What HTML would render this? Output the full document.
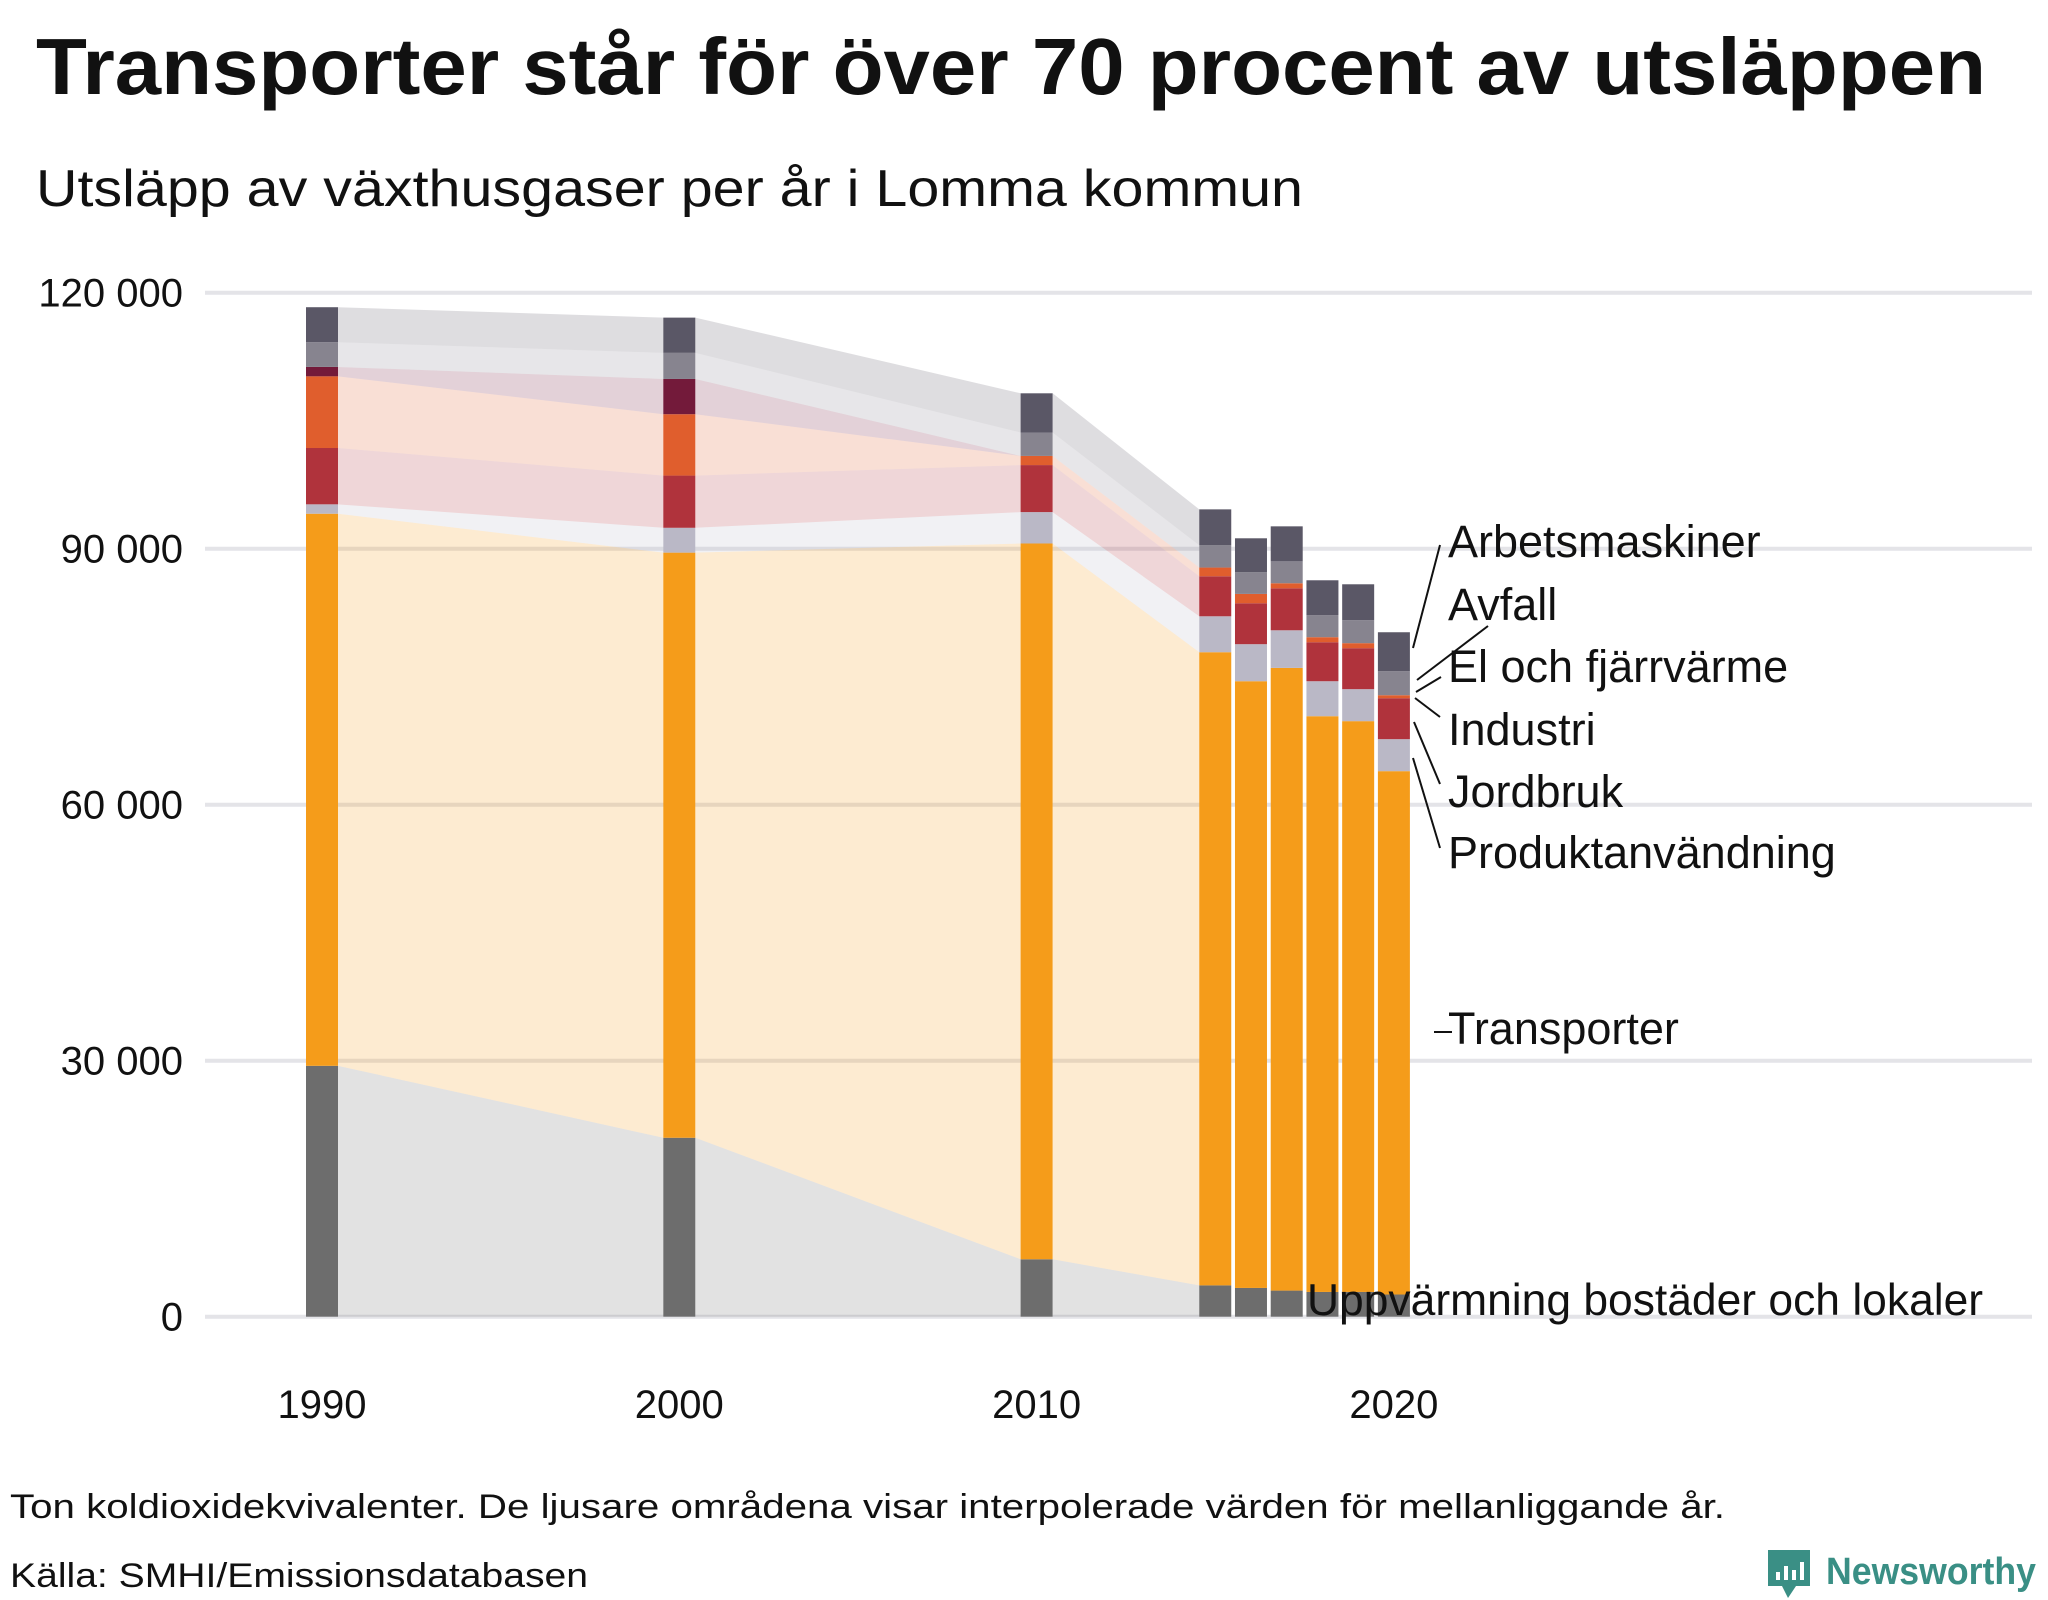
<!DOCTYPE html>
<html><head><meta charset="utf-8"><style>
body{margin:0;background:#fff;}
svg{display:block;}
</style></head><body>
<svg id="chart" width="2048" height="1600" viewBox="0 0 2048 1600" xmlns="http://www.w3.org/2000/svg">
<text x="36" y="94" font-family="'Liberation Sans',sans-serif" font-weight="bold" font-size="80" fill="#111" textLength="1950" lengthAdjust="spacingAndGlyphs">Transporter står för över 70 procent av utsläppen</text>
<text x="36" y="206" font-family="'Liberation Sans',sans-serif" font-size="52" fill="#111" textLength="1267" lengthAdjust="spacingAndGlyphs">Utsläpp av växthusgaser per år i Lomma kommun</text>
<g id="grid"></g>
<g id="areas"></g>
<g id="bars"></g>
<g id="labels"></g>
<text x="10" y="1518" font-family="'Liberation Sans',sans-serif" font-size="34" fill="#111" textLength="1715" lengthAdjust="spacingAndGlyphs">Ton koldioxidekvivalenter. De ljusare områdena visar interpolerade värden för mellanliggande år.</text>
<text x="10" y="1587" font-family="'Liberation Sans',sans-serif" font-size="34" fill="#111" textLength="578" lengthAdjust="spacingAndGlyphs">Källa: SMHI/Emissionsdatabasen</text>
<g>
<path d="M1768 1550 h42 v36 h-14 l-8 12 l-6 -12 h-14 z" fill="#3a8f85"/>
<rect x="1776" y="1572" width="4" height="8" fill="#fff"/><rect x="1784" y="1566" width="4" height="14" fill="#fff"/><rect x="1792" y="1570" width="4" height="10" fill="#fff"/><rect x="1800" y="1562" width="4" height="18" fill="#fff"/>
<text x="1826" y="1584" font-family="'Liberation Sans',sans-serif" font-weight="bold" font-size="38" fill="#3a8f85" textLength="210" lengthAdjust="spacingAndGlyphs">Newsworthy</text>
</g>
</svg>
<script>
const years = [1990, 2000, 2010, 2015, 2016, 2017, 2018, 2019, 2020];
const seriesNames = ["Uppvärmning bostäder och lokaler","Transporter","Produktanvändning","Jordbruk","Industri","El och fjärrvärme","Avfall","Arbetsmaskiner"];
const uppvarmning = [29400, 20970, 6730, 3670, 3370, 3060, 2900, 2900, 2600];
const transporter = [64700, 68570, 83880, 74200, 71100, 72970, 67470, 66890, 61330];
const produktanvandning = [1100, 2910, 3680, 4210, 4340, 4410, 4100, 3750, 3750];
const jordbruk = [6600, 6120, 5510, 4690, 4800, 4920, 4570, 4800, 4800];
const industri = [8400, 7190, 1070, 1020, 1090, 590, 590, 590, 350];
const elFjarrvarme = [1100, 4130, 0, 0, 0, 0, 0, 0, 0];
const avfall = [2900, 3060, 2750, 2610, 2540, 2570, 2570, 2690, 2810];
const arbetsmaskiner = [4100, 4130, 4590, 4210, 3980, 4100, 4100, 4210, 4570];
const yTicks = [0, 30000, 60000, 90000, 120000];
const yTickLabels = ["0", "30 000", "60 000", "90 000", "120 000"];
const xTicks = [1990, 2000, 2010, 2020];
const interpolatedGaps = [[0,1],[1,2],[2,3]];

const colors = ["#6d6d6d","#f59c1a","#bab8c6","#b0333c","#e05e2d","#731a3a","#87848f","#5a5766"];
const allSeries = [uppvarmning, transporter, produktanvandning, jordbruk, industri, elFjarrvarme, avfall, arbetsmaskiner];
const NS = "http://www.w3.org/2000/svg";
const yScale = v => 1316.7 - v * (1024 / 120000);
const xScale = yr => 322 + (yr - 1990) * 35.73;
const BW = 32;
function mk(tag, attrs, parent){const e=document.createElementNS(NS,tag);for(const k in attrs)e.setAttribute(k,attrs[k]);parent.appendChild(e);return e;}

const grid = document.getElementById('grid');
yTicks.forEach((t,i)=>{
  const l = mk('line',{x1:205,x2:2032,y1:yScale(t),y2:yScale(t),stroke:"#e4e4e8","stroke-width":4},grid);
  
  
  const tx = mk('text',{x:183,y:yScale(t)+14,"text-anchor":"end","font-family":"'Liberation Sans',sans-serif","font-size":40,fill:"#111"},grid);
  tx.textContent = yTickLabels[i];
  
  
});
xTicks.forEach(yr=>{
  const tx = mk('text',{x:xScale(yr),y:1418,"text-anchor":"middle","font-family":"'Liberation Sans',sans-serif","font-size":40,fill:"#111"},grid);
  tx.textContent = String(yr);
  
  
});

const cum = years.map((_,i)=>{let s=0;const arr=[0];allSeries.forEach(ser=>{s+=ser[i];arr.push(s);});return arr;});

const areas = document.getElementById('areas');
interpolatedGaps.forEach(([a,b])=>{
  allSeries.forEach((ser,k)=>{
    const xa = xScale(years[a]) + BW/2, xb = xScale(years[b]) - BW/2;
    const pts = [[xa,yScale(cum[a][k])],[xa,yScale(cum[a][k+1])],[xb,yScale(cum[b][k+1])],[xb,yScale(cum[b][k])]];
    const p = mk('polygon',{points:pts.map(q=>q.join(',')).join(' '),fill:colors[k],"fill-opacity":0.2},areas);
    
    
  });
});

const bars = document.getElementById('bars');
years.forEach((yr,i)=>{
  allSeries.forEach((ser,k)=>{
    if(ser[i] <= 0) return;
    const y0 = yScale(cum[i][k]), y1 = yScale(cum[i][k+1]);
    const r = mk('rect',{x:xScale(yr)-BW/2,y:y1,width:BW,height:y0-y1,fill:colors[k]},bars);
    
    
  });
});

const labels = document.getElementById('labels');
const legendItems = [
  ["Arbetsmaskiner",1448,557,45,[1413,648,1440,545]],
  ["Avfall",1448,620,45,[1417,680,1488,626]],
  ["El och fjärrvärme",1448,682,45,[1416,692,1441,677]],
  ["Industri",1448,745,45,[1415,698,1440,717]],
  ["Jordbruk",1448,807,45,[1414,722,1440,784]],
  ["Produktanvändning",1448,868,45,[1413,758,1440,848]],
  ["Transporter",1448,1044,45,[1434,1032,1452,1032]],
  ["Uppvärmning bostäder och lokaler",1307,1315,44.4,null]
];
legendItems.forEach(([t,x,y,fs,ln])=>{
  if(ln){
    const l = mk('line',{x1:ln[0],y1:ln[1],x2:ln[2],y2:ln[3],stroke:"#111","stroke-width":2},labels);
    
    
  }
  const tx = mk('text',{x:x,y:y,"font-family":"'Liberation Sans',sans-serif","font-size":fs,fill:"#111"},labels);
  tx.textContent = t;
  
  
});
</script>
</body></html>
